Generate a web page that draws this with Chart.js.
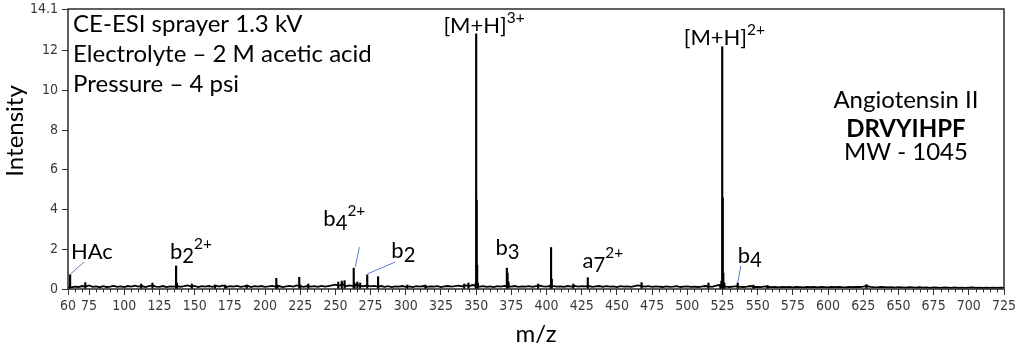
<!DOCTYPE html>
<html><head><meta charset="utf-8">
<script src="https://cdn.jsdelivr.net/npm/chart.js@4.4.1/dist/chart.umd.min.js"></script>
<style>html,body{margin:0;padding:0;background:#fff}#wrap{width:1017px;height:351px}</style>
</head><body><div id="wrap"><canvas id="c" width="1017" height="351"></canvas></div>
<script>
// ---- data ----
// baseline noise level, one reading every 2.5 m/z from 60 to 725
const baselineStart = 60;
const baselineStep = 2.5;
const baseline = [
 0.10,0.08,0.12,0.10,0.15,0.12,0.18,0.11,0.13,0.09,
 0.14,0.10,0.12,0.16,0.11,0.13,0.10,0.15,0.12,0.17,
 0.12,0.15,0.10,0.14,0.18,0.12,0.11,0.15,0.10,0.13,
 0.12,0.15,0.11,0.14,0.18,0.12,0.16,0.10,0.14,0.12,
 0.15,0.11,0.17,0.12,0.18,0.10,0.14,0.12,0.16,0.11,
 0.13,0.17,0.10,0.14,0.12,0.15,0.11,0.13,0.16,0.12,
 0.15,0.10,0.13,0.16,0.12,0.18,0.14,0.11,0.15,0.12,
 0.14,0.11,0.16,0.12,0.15,0.18,0.22,0.16,0.25,0.14,
 0.18,0.15,0.22,0.16,0.14,0.18,0.13,0.16,0.12,0.15,
 0.11,0.14,0.10,0.13,0.12,0.15,0.11,0.13,0.10,0.14,
 0.12,0.15,0.11,0.13,0.12,0.14,0.10,0.13,0.15,0.12,
 0.14,0.17,0.13,0.18,0.15,0.20,0.16,0.12,0.14,0.11,
 0.13,0.10,0.14,0.12,0.16,0.14,0.12,0.15,0.11,0.13,
 0.12,0.14,0.11,0.15,0.17,0.13,0.12,0.16,0.14,0.12,
 0.13,0.11,0.15,0.12,0.16,0.12,0.14,0.13,0.15,0.11,
 0.13,0.15,0.11,0.14,0.12,0.13,0.10,0.14,0.12,0.13,
 0.11,0.14,0.18,0.15,0.12,0.14,0.11,0.13,0.12,0.10,
 0.13,0.11,0.12,0.14,0.10,0.12,0.13,0.11,0.12,0.10,
 0.12,0.15,0.13,0.11,0.16,0.20,0.15,0.12,0.10,0.12,
 0.14,0.11,0.10,0.12,0.15,0.10,0.11,0.09,0.13,0.10,
 0.09,0.11,0.08,0.10,0.09,0.11,0.08,0.10,0.09,0.08,
 0.10,0.09,0.11,0.08,0.10,0.09,0.08,0.10,0.09,0.11,
 0.09,0.08,0.10,0.09,0.11,0.10,0.12,0.15,0.11,0.09,
 0.08,0.10,0.09,0.08,0.09,0.07,0.09,0.08,0.07,0.09,
 0.08,0.07,0.09,0.07,0.08,0.06,0.08,0.07,0.06,0.08,
 0.07,0.06,0.08,0.06,0.07,0.06,0.07,0.08,0.06,0.07,
 0.06,0.07,0.06,0.07,0.06,0.07,0.06
];
// centroid peaks (m/z, intensity)
const peakMz = [61.5,72.3,112,120,136.8,137.4,148,164.5,171.7,187,208,208.7,224.3,225,230.7,252,254.5,256.5,263,263.6,265.6,267.6,272.6,280.3,301,314,341.5,344.5,349.7,350.0,350.35,350.7,351.2,371.8,372.3,373,394,402.8,403.2,403.7,419,429.3,467.5,515,523.5,524.2,524.8,525.2,525.6,526.3,535.8,547,557,627.3];
const peakHeight = [0.72,0.32,0.25,0.30,1.16,0.30,0.25,0.20,0.20,0.20,0.54,0.20,0.59,0.20,0.25,0.35,0.40,0.42,1.05,0.30,0.35,0.30,0.71,0.62,0.20,0.20,0.25,0.30,0.30,12.85,4.47,1.20,0.30,1.05,0.80,0.35,0.25,0.20,2.09,0.50,0.25,0.57,0.32,0.30,0.20,0.40,12.20,4.59,0.80,0.30,0.30,0.20,0.18,0.22];
const xTickLabels = [60,75,100,125,150,175,200,225,250,275,300,325,350,375,400,425,450,475,500,525,550,575,600,625,650,675,700,725];
const xMinorStep = 5;
const yTickLabels = [0,2,4,6,8,10,12,14.1];
const xRange = [60, 725];
const yRange = [0, 14.1];

// peak labels: parts, anchor (m/z, intensity) of text baseline-left
const peakLabels = [
 {parts:[{t:'HAc'}], at:[62.1,1.51]},
 {parts:[{t:'b'},{t:'2',sub:1},{t:'2+',sup:1}], at:[132.5,1.51]},
 {parts:[{t:'b'},{t:'4',sub:1},{t:'2+',sup:1}], at:[241.4,3.17]},
 {parts:[{t:'b'},{t:'2',sub:1}], at:[289.7,1.56]},
 {parts:[{t:'b'},{t:'3',sub:1}], at:[363.7,1.71]},
 {parts:[{t:'a'},{t:'7',sub:1},{t:'2+',sup:1}], at:[425.6,1.06]},
 {parts:[{t:'b'},{t:'4',sub:1}], at:[535.8,1.31]},
 {parts:[{t:'[M+H]'},{t:'3+',sup:1}], at:[326.7,12.89]},
 {parts:[{t:'[M+H]'},{t:'2+',sup:1}], at:[497.4,12.29]}
];
const leaderLines = [
 [[61.9,0.76],[71.4,1.36]],
 [[264.1,1.11],[267.0,2.11]],
 [[272.7,0.76],[292.6,1.36]],
 [[535.8,0.30],[538.0,1.16]]
];
const conditionLines = ['CE-ESI sprayer 1.3 kV','Electrolyte \u2013 2 M acetic acid','Pressure \u2013 4 psi'];
const conditionAnchor = [63.6, [12.94, 11.43, 9.92]];
const peptideLines = [{t:'Angiotensin II'},{t:'DRVYIHPF',bold:1},{t:'MW - 1045'}];
const peptideAnchor = [655.3, [9.11, 7.65, 6.50]];

const LABEL_FONT = 'Lato, "Open Sans", sans-serif';
const LABEL_SIZE = 22;
const BLOCK_SIZE = 24;
const TICK_FONT = '"DejaVu Sans Condensed", "Liberation Sans", sans-serif';

function drawRich(ctx, px, py, parts, size) {
  let cx = px;
  for (const p of parts) {
    let fs = size, dy = 0;
    if (p.sub) { fs = size * 0.92; dy = 4; }
    if (p.sup) { fs = size * 0.7; dy = -10; }
    ctx.font = `${fs}px ${LABEL_FONT}`;
    ctx.fillText(p.t, cx, py + dy);
    cx += ctx.measureText(p.t).width;
  }
}

const overlay = {
  id: 'overlay',
  afterDraw(chart) {
    const {ctx, chartArea: a, scales: {x, y}} = chart;
    ctx.save();
    ctx.strokeStyle = '#2b2b2b'; ctx.lineWidth = 1.5;
    ctx.strokeRect(a.left, a.top, a.right - a.left, a.bottom - a.top);
    ctx.lineWidth = 1; ctx.strokeStyle = '#333';
    ctx.beginPath();
    for (let v = xRange[0]; v <= xRange[1]; v += xMinorStep) {
      if (xTickLabels.includes(v)) continue;
      const px = Math.round(x.getPixelForValue(v)) + 0.5;
      ctx.moveTo(px, a.bottom); ctx.lineTo(px, a.bottom + 3.5);
    }
    ctx.stroke();
    ctx.strokeStyle = '#5b7bd5'; ctx.lineWidth = 1;
    for (const [p, q] of leaderLines) {
      ctx.beginPath();
      ctx.moveTo(x.getPixelForValue(p[0]), y.getPixelForValue(p[1]));
      ctx.lineTo(x.getPixelForValue(q[0]), y.getPixelForValue(q[1]));
      ctx.stroke();
    }
    ctx.fillStyle = '#000'; ctx.textBaseline = 'alphabetic'; ctx.textAlign = 'left';
    for (const L of peakLabels) {
      drawRich(ctx, x.getPixelForValue(L.at[0]), y.getPixelForValue(L.at[1]), L.parts, LABEL_SIZE);
    }
    ctx.font = `${BLOCK_SIZE}px ${LABEL_FONT}`;
    conditionLines.forEach((t, i) => {
      ctx.fillText(t, x.getPixelForValue(conditionAnchor[0]), y.getPixelForValue(conditionAnchor[1][i]));
    });
    ctx.textAlign = 'center';
    peptideLines.forEach((L, i) => {
      ctx.font = `${L.bold ? 'bold ' : ''}${BLOCK_SIZE}px ${LABEL_FONT}`;
      ctx.fillText(L.t, x.getPixelForValue(peptideAnchor[0]), y.getPixelForValue(peptideAnchor[1][i]));
    });
    ctx.save();
    ctx.translate(a.left - 53, y.getPixelForValue(7.96));
    ctx.rotate(-Math.PI / 2);
    ctx.textAlign = 'center'; ctx.textBaseline = 'middle';
    ctx.font = `${BLOCK_SIZE}px ${LABEL_FONT}`;
    ctx.fillText('Intensity', 0, 0);
    ctx.restore();
    ctx.restore();
  }
};

new Chart(document.getElementById('c'), {
  type: 'line',
  data: {
    datasets: [{
      type: 'line',
      data: baseline.map((v, i) => ({x: baselineStart + i * baselineStep, y: v})),
      borderColor: '#000', borderWidth: 1.8, pointRadius: 0, tension: 0, fill: false
    }, {
      type: 'bar',
      data: peakMz.map((m, i) => ({x: m, y: peakHeight[i]})),
      backgroundColor: '#000', borderWidth: 0, barThickness: 1.5, grouped: false
    }]
  },
  options: {
    responsive: false, animation: false, devicePixelRatio: 1,
    layout: {padding: {top: 9, right: 13, left: 0, bottom: 0}},
    plugins: {legend: {display: false}, tooltip: {enabled: false}},
    scales: {
      x: {
        type: 'linear', min: xRange[0], max: xRange[1], offset: false,
        afterBuildTicks: s => { s.ticks = xTickLabels.map(v => ({value: v})); },
        afterFit: s => { s.height = 62; s.paddingLeft = 0; s.paddingRight = 0; },
        grid: {drawOnChartArea: false, offset: false, tickLength: 6, tickColor: '#333', tickWidth: 1},
        border: {display: false},
        ticks: {color: '#3a3a3a', font: {family: TICK_FONT, size: 14}, padding: 3, maxRotation: 0, autoSkip: false},
        title: {display: true, text: 'm/z', color: '#000', font: {family: LABEL_FONT, size: 24}, padding: {top: 0, bottom: 2}}
      },
      y: {
        type: 'linear', min: yRange[0], max: yRange[1],
        afterBuildTicks: s => { s.ticks = yTickLabels.map(v => ({value: v})); },
        afterFit: s => { s.width = 68; s.paddingTop = 0; s.paddingBottom = 0; },
        grid: {drawOnChartArea: false, tickLength: 6, tickColor: '#333', tickWidth: 1},
        border: {display: false},
        ticks: {color: '#3a3a3a', font: {family: TICK_FONT, size: 14}, padding: 4, callback: v => String(v)}
      }
    }
  },
  plugins: [overlay]
});
</script>
</body></html>
